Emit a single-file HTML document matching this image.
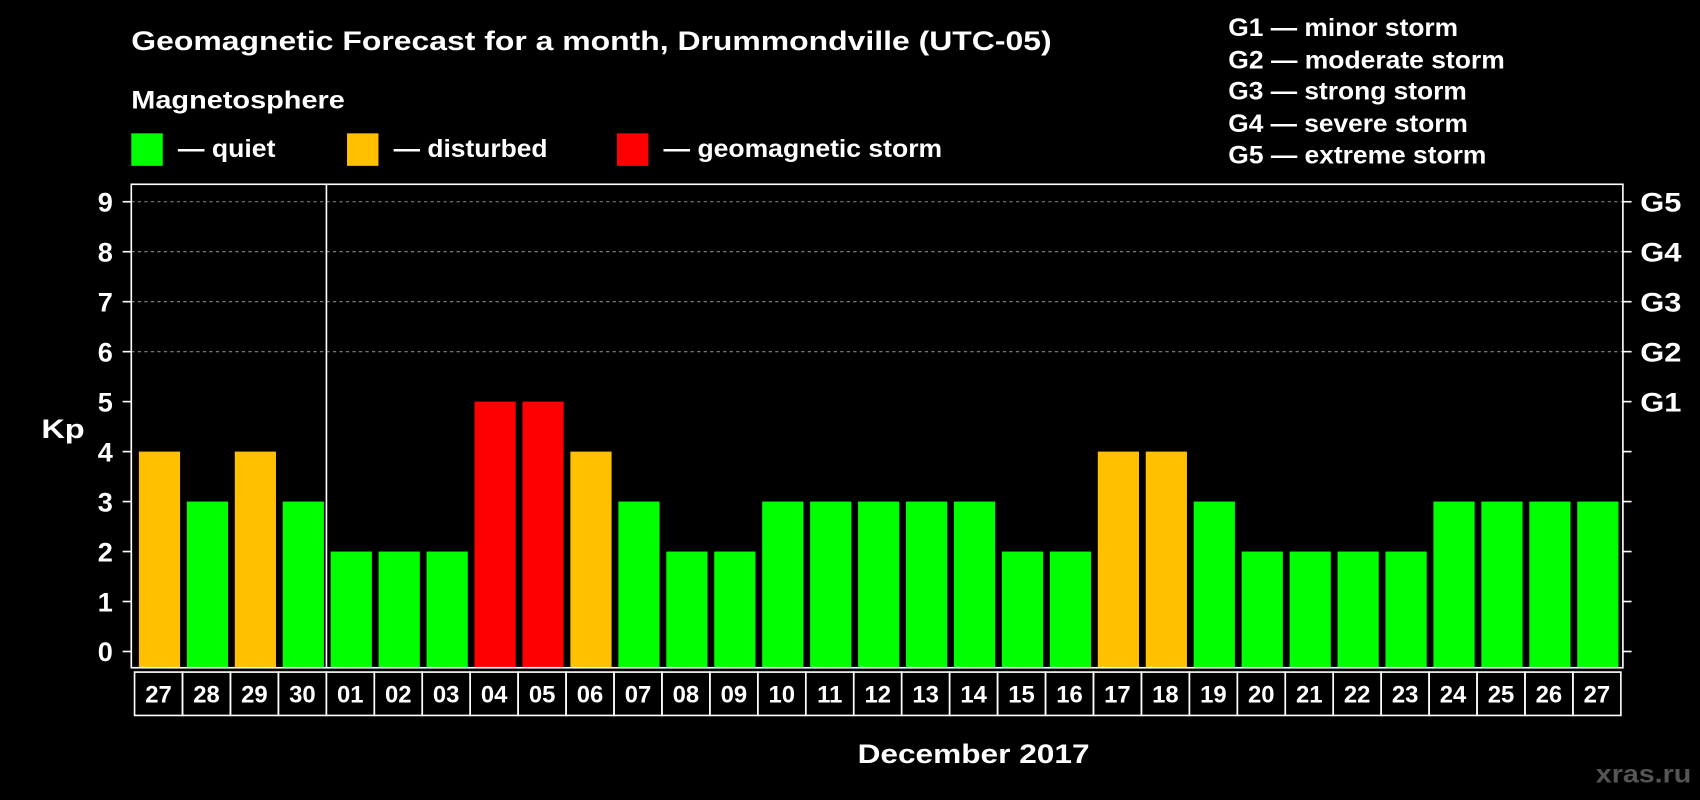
<!DOCTYPE html>
<html><head><meta charset="utf-8"><style>
html,body{margin:0;padding:0;background:#000;}
svg{display:block;}
text{font-family:"Liberation Sans",Arial,sans-serif;font-weight:bold;fill:#fff;}
</style></head><body>
<svg width="1700" height="800" viewBox="0 0 1568 738" xmlns="http://www.w3.org/2000/svg">
<rect width="1568" height="738" fill="#000"/>
<text x="121" y="46" font-size="25" textLength="849" lengthAdjust="spacingAndGlyphs">Geomagnetic Forecast for a month, Drummondville (UTC-05)</text>
<text x="121" y="100" font-size="23" textLength="197" lengthAdjust="spacingAndGlyphs">Magnetosphere</text>
<rect x="121" y="123" width="29" height="30" fill="#00ff00"/>
<text x="164" y="145" font-size="23" textLength="90" lengthAdjust="spacingAndGlyphs">— quiet</text>
<rect x="320" y="123" width="29" height="30" fill="#ffc000"/>
<text x="363" y="145" font-size="23" textLength="142" lengthAdjust="spacingAndGlyphs">— disturbed</text>
<rect x="569" y="123" width="29" height="30" fill="#ff0000"/>
<text x="612" y="145" font-size="23" textLength="257" lengthAdjust="spacingAndGlyphs">— geomagnetic storm</text>
<g font-size="23">
<text x="1133" y="33" textLength="212" lengthAdjust="spacingAndGlyphs">G1 — minor storm</text>
<text x="1133" y="63" textLength="255" lengthAdjust="spacingAndGlyphs">G2 — moderate storm</text>
<text x="1133" y="92" textLength="220" lengthAdjust="spacingAndGlyphs">G3 — strong storm</text>
<text x="1133" y="122" textLength="221" lengthAdjust="spacingAndGlyphs">G4 — severe storm</text>
<text x="1133" y="151" textLength="238" lengthAdjust="spacingAndGlyphs">G5 — extreme storm</text>
</g>
<g id="grid" stroke="#888" stroke-dasharray="3,3" stroke-width="1"></g>
<g id="bars"></g>
<rect x="121" y="170" width="1376" height="446" fill="none" stroke="#fff" stroke-width="1.5"/>
<line x1="301" y1="170" x2="301" y2="616" stroke="#fff" stroke-width="1.5"/>
<g id="axes"></g>
<text x="38" y="404" font-size="25" textLength="40" lengthAdjust="spacingAndGlyphs">Kp</text>
<text x="791" y="704" font-size="25" textLength="214" lengthAdjust="spacingAndGlyphs">December 2017</text>
<text x="1472" y="722" font-size="23" style="fill:#555" textLength="88" lengthAdjust="spacingAndGlyphs">xras.ru</text>
<script>
var ns="http://www.w3.org/2000/svg";
function el(p,t,a,txt){var e=document.createElementNS(ns,t);for(var k in a)e.setAttribute(k,a[k]);if(txt!==undefined)e.textContent=txt;document.getElementById(p).appendChild(e);return e;}
function Y(v){return 601-v*46.1;}
for(var v=6;v<=9;v++)el("grid","line",{x1:121,x2:1497,y1:Y(v),y2:Y(v)});
for(var v=0;v<=9;v++){
 el("axes","line",{x1:113,x2:121,y1:Y(v),y2:Y(v),stroke:"#fff","stroke-width":1.5});
 el("axes","line",{x1:1497,x2:1505,y1:Y(v),y2:Y(v),stroke:"#fff","stroke-width":1.5});
 el("axes","text",{x:104,y:Y(v)+9,"font-size":25,"text-anchor":"end"},String(v));
 if(v>=5)el("axes","text",{x:1513,y:Y(v)+9,"font-size":25,textLength:38,lengthAdjust:"spacingAndGlyphs"},"G"+(v-4));
}
var vals=[4,3,4,3,2,2,2,5,5,4,3,2,2,3,3,3,3,3,2,2,4,4,3,2,2,2,2,3,3,3,3];
var labs=["27","28","29","30"];for(var d=1;d<=27;d++)labs.push((d<10?"0":"")+d);
var col={2:"#00ff00",3:"#00ff00",4:"#ffc000",5:"#ff0000"};
var p=44.23;
for(var i=0;i<31;i++){
 var x=128+i*p;
 el("bars","rect",{x:x,y:Y(vals[i]),width:38,height:616-Y(vals[i]),fill:col[vals[i]]});
 var cx=124+i*p;
 el("axes","rect",{x:cx,y:620,width:p,height:40,fill:"none",stroke:"#fff","stroke-width":1.5});
 el("axes","text",{x:cx+p/2,y:648,"font-size":22,"text-anchor":"middle"},labs[i]);
}
</script>
</svg>
</body></html>
